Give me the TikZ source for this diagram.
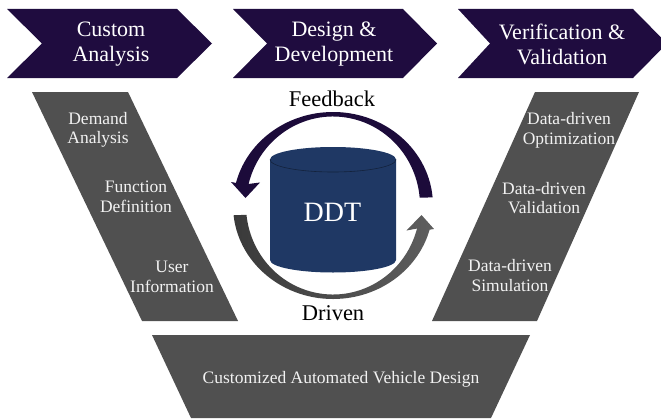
\documentclass[tikz,border=0pt]{standalone}
\usepackage{fontspec}
\setmainfont{Liberation Serif}
\usetikzlibrary{calc}
\definecolor{chev}{HTML}{1F0C3F}
\definecolor{panel}{HTML}{505050}
\definecolor{ddtblue}{HTML}{1F3864}
\definecolor{fbcol}{HTML}{1C0B3A}
\definecolor{drvL}{HTML}{3A3A3A}
\definecolor{drvR}{HTML}{5E5E5E}
\definecolor{paneltext}{HTML}{F2F2F2}
\begin{document}
\begin{tikzpicture}[x=1pt,y=-1pt,
  chevron/.style={fill=chev},
  panelshape/.style={fill=panel},
  lbl/.style={align=center, inner sep=0pt},
  headtxt/.style={lbl, text=white, font=\fontsize{22}{25}\selectfont},
  sidetxt/.style={lbl, text=paneltext, font=\fontsize{17.5}{19.5}\selectfont},
  looptxt/.style={lbl, text=black, font=\fontsize{22.5}{26}\selectfont}]
\useasboundingbox (0,0) rectangle (661,420);
\clip (0,0) rectangle (661,420);

% chevrons
\fill[chevron] (7,9) -- (177,9) -- (212,43.5) -- (177,78) -- (7,78) -- (42,43.5) -- cycle;
\fill[chevron] (233,9) -- (403,9) -- (437,43.5) -- (403,78) -- (233,78) -- (267,43.5) -- cycle;
\fill[chevron] (458,9) -- (633,9) -- (667,43.5) -- (633,78) -- (458,78) -- (490,43.5) -- cycle;
\node[headtxt] (ca) at (111,44) {Custom\\Analysis};
\node[headtxt] (dd) at (334,44) {Design \&\\Development};
\node[headtxt] (vv) at (562,44) {Verification \&\\Validation};

% side panels
\fill[panelshape] (32,92) -- (128,92) -- (238,321) -- (142,321) -- cycle;
\fill[panelshape] (535,92) -- (639,92) -- (537,321) -- (432,321) -- cycle;
\fill[panelshape] (152,335) -- (530,335) -- (491,418) -- (191,418) -- cycle;

\node[sidetxt] (da) at (98,130) {Demand\\Analysis};
\node[sidetxt] (fd) at (136,197) {Function\\Definition};
\node[sidetxt] (ui) at (172,277) {User\\Information};
\node[sidetxt] (dopt) at (569,130.5) {Data-driven\\Optimization};
\node[sidetxt] (dval) at (544,198) {Data-driven\\Validation};
\node[sidetxt] (dsim) at (510,275.5) {Data-driven\\Simulation};
\node[sidetxt] (cav) at (341,379) {Customized Automated Vehicle Design};

% feedback arrow
\fill[fbcol] ($(333,205.5)+(-5:100 and 93.5)$)
  arc[start angle=-5, end angle=-166, x radius=100, y radius=93.5]
  -- (231,182) -- (245.5,198) -- (260,182.5)
  -- ($(333,205.5)+(-166:87 and 89)$)
  arc[start angle=-166, end angle=-5, x radius=87, y radius=89] -- cycle;

% driven arrow
\shade[left color=drvL, right color=drvR] ($(333,205.5)+(174:100 and 93.5)$)
  arc[start angle=174, end angle=15, x radius=100, y radius=93.5]
  -- (434,229) -- (421.5,215) -- (406.5,230.5)
  -- ($(333,205.5)+(15:87 and 89)$)
  arc[start angle=15, end angle=174, x radius=87, y radius=89] -- cycle;

% cylinder
\fill[ddtblue] (270,159.5) -- (270,260)
  arc[start angle=180, end angle=0, x radius=63, y radius=12.5]
  -- (396,159.5)
  arc[start angle=0, end angle=-180, x radius=63, y radius=12.5] -- cycle;
\draw[ddtblue!60!black, line width=0.6pt] (270,159.5)
  arc[start angle=180, end angle=0, x radius=63, y radius=12.5];
\node[lbl, text=white, font=\fontsize{28}{32}\selectfont] (ddt) at (332.5,212.5) {DDT};

\node[looptxt] (fbl) at (332,98.5) {Feedback};
\node[looptxt] (drl) at (333,313.5) {Driven};
\end{tikzpicture}
\end{document}
